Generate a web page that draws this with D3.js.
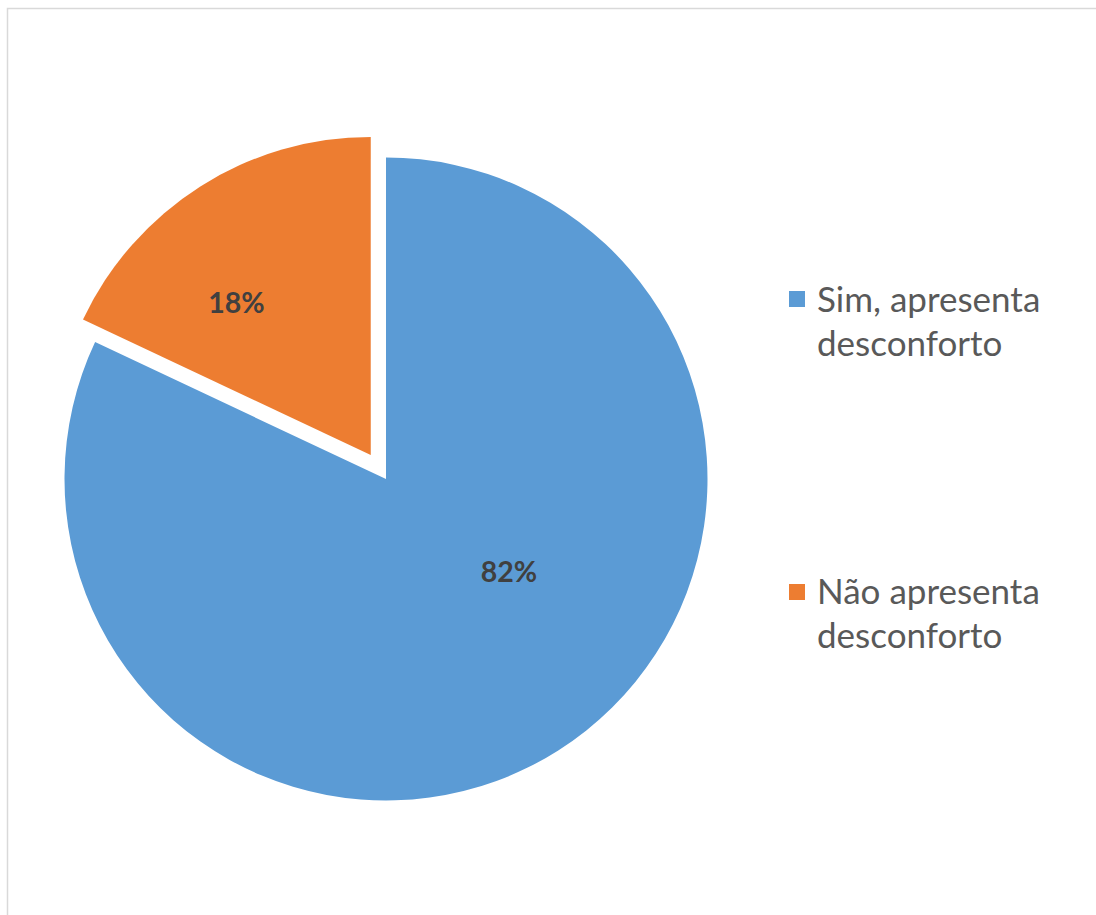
<!DOCTYPE html>
<html>
<head>
<meta charset="utf-8">
<script src="https://cdn.jsdelivr.net/npm/d3@7"></script>
<style>
  html, body { margin: 0; padding: 0; background: #fff; }
  svg { display: block; }
</style>
</head>
<body>
<svg id="chart" width="1096" height="915"></svg>
<script>
// Survey answers: share of respondents reporting discomfort
const categories = ["Sim, apresenta desconforto", "Não apresenta desconforto"];
const values = [82, 18];
const legendLines = [["Sim, apresenta", "desconforto"], ["Não apresenta", "desconforto"]];
const colors = ["#5B9BD5", "#ED7D31"];
const exploded = [false, true];

const svg = d3.select("#chart");
const W = 1096, H = 915;

// chart frame (right/bottom edges fall outside the view)
svg.append("rect")
  .attr("x", 7.5).attr("y", 8.5)
  .attr("width", W + 20).attr("height", H + 20)
  .attr("fill", "#fff")
  .attr("stroke", "#d9d9d9")
  .attr("stroke-width", 1.5);

const cx = 386, cy = 479;
const R = 321.5, Rex = 318, explodeDist = 28.5;
// data-label placement inside each slice: angle shift (rad) and radius fraction
const labelAngleShift = [-0.365, -0.155];
const labelRadiusFrac = [0.477, 0.64];

const pie = d3.pie().sort(null).value(d => d.value);
const data = categories.map((c, i) => ({ name: c, value: values[i], color: colors[i], exploded: exploded[i] }));
const arcs = pie(data);
const total = d3.sum(values);

const g = svg.append("g").attr("transform", `translate(${cx},${cy})`);

arcs.forEach((a, i) => {
  const mid = (a.startAngle + a.endAngle) / 2;
  const off = a.data.exploded ? explodeDist : 0;
  const r = a.data.exploded ? Rex : R;
  const dx = Math.sin(mid) * off, dy = -Math.cos(mid) * off;
  const arc = d3.arc().innerRadius(0).outerRadius(r);
  const sg = g.append("g").attr("transform", `translate(${dx},${dy})`);
  sg.append("path")
    .attr("d", arc(a))
    .attr("fill", a.data.color);
  // percentage label
  const la = mid + labelAngleShift[i];
  const lr = r * labelRadiusFrac[i];
  sg.append("text")
    .attr("x", Math.sin(la) * lr).attr("y", -Math.cos(la) * lr)
    .attr("text-anchor", "middle")
    .attr("dominant-baseline", "central")
    .attr("font-family", "Lato, 'Open Sans', sans-serif")
    .attr("font-weight", "bold")
    .attr("font-size", 28.5)
    .attr("fill", "#404040")
    .text(Math.round(a.data.value / total * 100) + "%");
});

// legend
const legendX = 789, legendTops = [291, 584], baselines = [[312, 355.5], [603.5, 648]];
const lg = svg.append("g");
data.forEach((d, i) => {
  lg.append("rect")
    .attr("x", legendX).attr("y", legendTops[i])
    .attr("width", 16).attr("height", 16)
    .attr("fill", d.color);
  legendLines[i].forEach((t, j) => {
    lg.append("text")
      .attr("x", 817).attr("y", baselines[i][j])
      .attr("font-family", "Lato, 'Open Sans', sans-serif")
      .attr("font-size", 35)
      .attr("fill", "#595959")
      .text(t);
  });
});
</script>
</body>
</html>
